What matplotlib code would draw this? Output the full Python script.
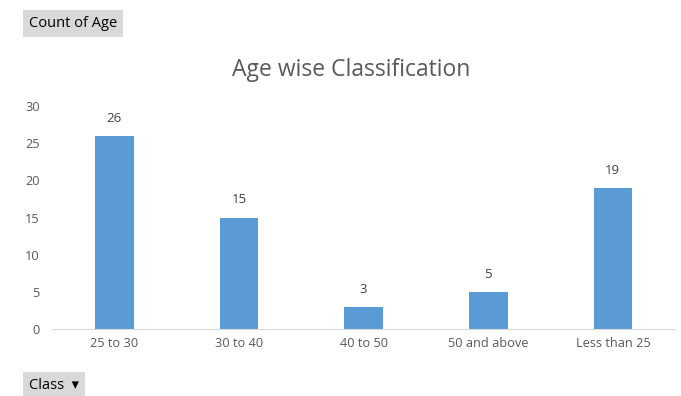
import matplotlib
matplotlib.use('Agg')
import matplotlib.pyplot as plt

# データ
classes = ["25 to 30", "30 to 40", "40 to 50", "50 and above", "Less than 25"]
counts = [26, 15, 3, 5, 19]
y_ticks = [0, 5, 10, 15, 20, 25, 30]

plt.rcParams['font.family'] = ['Open Sans', 'DejaVu Sans']

fig = plt.figure(figsize=(6.81, 3.96), dpi=100)
ax = fig.add_axes([0.0764, 0.169, 0.915, 0.563])

bars = ax.bar(range(len(classes)), counts, width=0.31, color='#5B9BD5')
ax.set_xlim(-0.5, len(classes) - 0.5)
ax.set_ylim(0, 30)
ax.set_yticks(y_ticks)
ax.set_xticks(range(len(classes)))
ax.set_xticklabels(classes)

for b, v in zip(bars, counts):
    ax.annotate(str(v), (b.get_x() + b.get_width() / 2, v),
                xytext=(0, 8), textcoords='offset points',
                ha='center', va='bottom', fontsize=9.5, color='#404040')

for s in ['top', 'right', 'left']:
    ax.spines[s].set_visible(False)
ax.spines['bottom'].set_color('#d9d9d9')
ax.tick_params(axis='both', length=0, colors='#595959', labelsize=9.2)
ax.tick_params(axis='y', pad=9)
ax.tick_params(axis='x', pad=6)

fig.text(0.515, 0.822, "Age wise Classification", ha='center', va='center',
         fontsize=16.5, color='#595959')

# ピボットのボタン
fig.text(0.043, 0.940, "Count of Age", ha='left', va='center', fontsize=10.5,
         color='#000000',
         bbox=dict(boxstyle='square,pad=0.4', fc='#d9d9d9', ec='none'))
fig.text(0.043, 0.026, "Class  \u25be", ha='left', va='center', fontsize=10.5,
         color='#000000',
         bbox=dict(boxstyle='square,pad=0.4', fc='#d9d9d9', ec='none'))

fig.savefig('out.png', dpi=100)
